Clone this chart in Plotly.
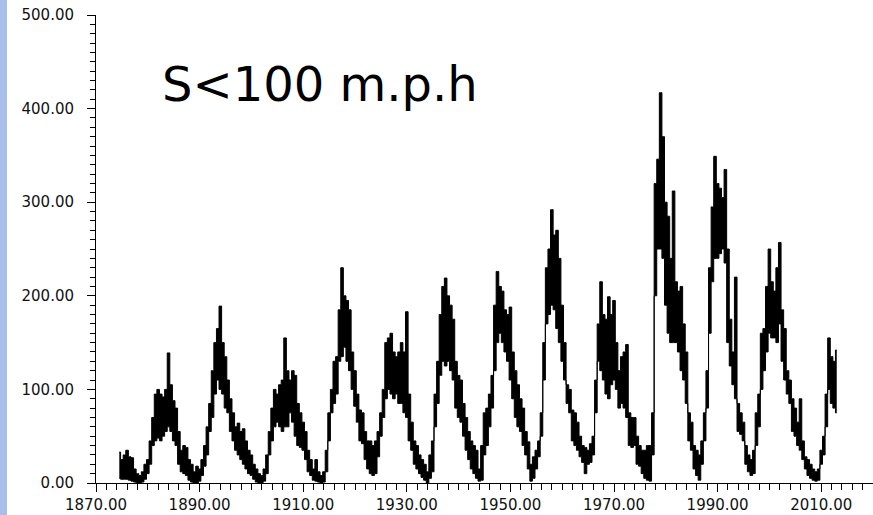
import plotly.graph_objects as go

# Half-year sample times (years)
years = [1874.5 + 0.5 * i for i in range(278)]

# Upper envelope of the noisy series
upper_values = [
    33, 25, 30, 35, 28, 27, 15, 10, 8, 12,            # 1874.5-1879.0
    20, 25, 45, 70, 95, 100, 95, 92, 100, 139,        # 1879.5-1884.0
    105, 88, 80, 55, 35, 40, 38, 25, 20, 12,          # 1884.5-1889.0
    18, 15, 25, 40, 60, 85, 120, 150, 165, 189,       # 1889.5-1894.0
    150, 135, 110, 90, 75, 60, 64, 55, 58, 45,        # 1894.5-1899.0
    35, 30, 20, 15, 10, 8, 15, 30, 55, 80,            # 1899.5-1904.0
    100, 95, 105, 110, 155, 120, 110, 120, 115, 85,   # 1904.5-1909.0
    75, 65, 55, 35, 25, 15, 25, 12, 8, 12,            # 1909.5-1914.0
    35, 75, 100, 130, 135, 185, 230, 200, 195, 185,   # 1914.5-1919.0
    140, 120, 95, 78, 75, 55, 45, 45, 40, 45,         # 1919.5-1924.0
    55, 75, 100, 150, 155, 160, 140, 135, 140, 150,   # 1924.5-1929.0
    140, 183, 95, 65, 45, 40, 30, 25, 20, 12,         # 1929.5-1934.0
    30, 45, 95, 130, 180, 210, 219, 200, 190, 175,    # 1934.5-1939.0
    130, 115, 110, 85, 70, 55, 45, 40, 35, 15,        # 1939.5-1944.0
    40, 75, 80, 95, 115, 190, 226, 210, 205, 185,     # 1944.5-1949.0
    180, 188, 140, 120, 105, 90, 80, 55, 44, 20,      # 1949.5-1954.0
    28, 35, 45, 75, 150, 230, 250, 292, 265, 270,     # 1954.5-1959.0
    240, 190, 150, 105, 100, 78, 75, 65, 50, 40,      # 1959.5-1964.0
    38, 35, 42, 50, 110, 170, 215, 180, 175, 199,     # 1964.5-1969.0
    180, 195, 150, 120, 135, 140, 148, 75, 70, 70,    # 1969.5-1974.0
    50, 40, 35, 35, 40, 40, 75, 320, 346, 417,        # 1974.5-1979.0
    370, 300, 285, 240, 312, 215, 205, 210, 170, 140, # 1979.5-1984.0
    75, 65, 40, 35, 30, 45, 75, 120, 230, 295,        # 1984.5-1989.0
    349, 320, 315, 305, 335, 250, 175, 140, 220, 85,  # 1989.5-1994.0
    75, 65, 40, 30, 25, 35, 75, 95, 160, 165,         # 1994.5-1999.0
    210, 250, 215, 205, 230, 257, 185, 165, 120, 110, # 1999.5-2004.0
    90, 80, 65, 90, 45, 28, 25, 20, 15, 12,           # 2004.5-2009.0
    15, 35, 50, 95, 155, 135, 130, 142,               # 2009.5-2013.0
]

# Lower envelope of the noisy series
lower_values = [
    5, 4, 4, 4, 3, 2, 1, 0, 0, 1,
    4, 10, 20, 40, 45, 48, 45, 50, 55, 60,
    55, 45, 40, 20, 12, 10, 8, 3, 1, 0,
    0, 2, 8, 18, 30, 55, 70, 95, 110, 100,
    95, 80, 75, 55, 45, 35, 30, 25, 20, 15,
    10, 8, 4, 1, 0, 0, 2, 10, 30, 45,
    60, 65, 60, 55, 60, 60, 75, 65, 50, 40,
    38, 35, 25, 12, 8, 3, 2, 1, 0, 1,
    12, 45, 75, 85, 95, 130, 135, 145, 130, 120,
    100, 82, 65, 45, 42, 25, 15, 10, 8, 10,
    28, 50, 70, 90, 100, 95, 90, 95, 85, 85,
    75, 70, 45, 35, 20, 15, 10, 6, 3, 0,
    5, 12, 60, 85, 115, 130, 125, 130, 120, 110,
    80, 70, 65, 50, 35, 25, 15, 10, 5, 2,
    3, 30, 40, 60, 80, 120, 150, 160, 150, 140,
    130, 110, 90, 70, 60, 55, 40, 30, 15, 2,
    5, 15, 28, 50, 110, 170, 180, 190, 185, 165,
    150, 130, 110, 85, 75, 45, 40, 35, 28, 22,
    10, 20, 22, 30, 75, 130, 120, 110, 95, 90,
    105, 110, 100, 80, 85, 80, 70, 40, 38, 40,
    20, 18, 10, 5, 3, 2, 30, 200, 250, 250,
    240, 190, 160, 150, 150, 150, 140, 120, 110, 85,
    45, 35, 15, 8, 3, 20, 45, 80, 160, 215,
    240, 240, 245, 250, 235, 150, 125, 105, 90, 55,
    52, 45, 20, 12, 8, 10, 40, 60, 100, 120,
    140, 160, 155, 155, 150, 170, 130, 110, 95, 85,
    55, 50, 40, 35, 25, 15, 8, 5, 3, 2,
    3, 20, 30, 60, 100, 85, 80, 75,
]

title_text = "S&lt;100 m.p.h"
x_range = [1870, 2020]
y_range = [0, 500]

fig = go.Figure()
fig.add_trace(go.Scatter(
    x=years, y=lower_values, mode="lines",
    line=dict(color="black", width=1, shape="hvh"),
    hoverinfo="skip", showlegend=False,
))
fig.add_trace(go.Scatter(
    x=years, y=upper_values, mode="lines",
    line=dict(color="black", width=1, shape="hvh"),
    fill="tonexty", fillcolor="black",
    hoverinfo="skip", showlegend=False,
))

W, H = 873, 515
ml, mr, mt, mb = 96, 0, 15, 32
pw = W - ml - mr
ph = H - mt - mb

tickfont = dict(family="DejaVu Sans", size=15, color="#111111")

fig.update_layout(
    width=W, height=H,
    margin=dict(l=ml, r=mr, t=mt, b=mb, autoexpand=False),
    paper_bgcolor="white", plot_bgcolor="white",
    showlegend=False, hovermode=False,
    xaxis=dict(
        range=x_range, showgrid=False, zeroline=False, automargin=False,
        showline=True, linecolor="black", linewidth=1,
        ticks="outside", tick0=1870, dtick=20, ticklen=8, tickwidth=1, tickcolor="black",
        tickformat=".2f", tickfont=tickfont,
        minor=dict(dtick=2, tick0=1870, ticks="outside", ticklen=6, tickwidth=1, tickcolor="black"),
    ),
    yaxis=dict(
        range=y_range, showgrid=False, zeroline=False, automargin=False,
        showline=True, linecolor="black", linewidth=1,
        ticks="outside", tick0=0, dtick=100, ticklen=8, tickwidth=1, tickcolor="black",
        tickformat=".2f", tickfont=tickfont, ticklabelstandoff=10,
        minor=dict(dtick=10, tick0=0, ticks="outside", ticklen=5, tickwidth=1, tickcolor="black"),
    ),
    shapes=[dict(
        type="rect", xref="paper", yref="paper",
        x0=-ml / pw, x1=(7 - ml) / pw, y0=-mb / ph, y1=1 + mt / ph,
        fillcolor="#A8C0E8", line=dict(width=0), layer="above",
    )],
    annotations=[dict(
        text=title_text, xref="paper", yref="paper",
        x=(160 - ml) / pw, y=(483 - 84) / ph,
        xanchor="left", yanchor="middle", showarrow=False,
        font=dict(family="DejaVu Sans", size=48, color="black"),
    )],
)

fig.write_html(
    "out.html",
    config=dict(displayModeBar=False),
    post_script="document.body.style.margin='0';document.body.style.padding='0';document.body.style.overflow='hidden';",
)
